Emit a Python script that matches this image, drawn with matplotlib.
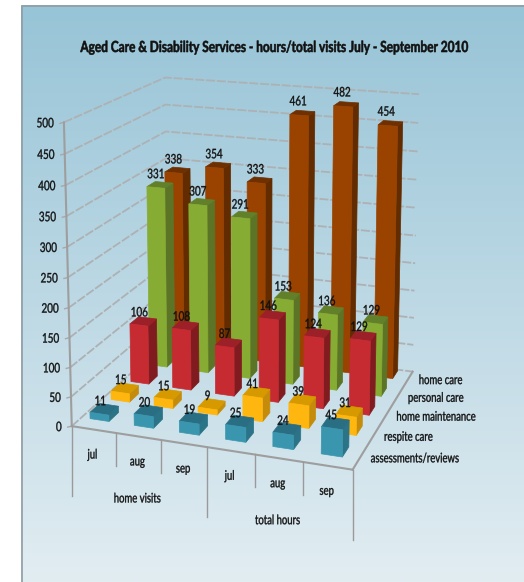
import numpy as np
import matplotlib
matplotlib.use("Agg")
import matplotlib.pyplot as plt
from matplotlib.patches import Polygon
from matplotlib.colors import LinearSegmentedColormap
from matplotlib.patheffects import AbstractPathEffect
from matplotlib.transforms import Affine2D

plt.rcParams['font.family'] = ['Lato', 'DejaVu Sans']

title = "Aged Care & Disability Services - hours/total visits July - September 2010"
months = ["jul", "aug", "sep", "jul", "aug", "sep"]
groups = ["home visits", "total hours"]
series_names = ["assessments/reviews", "respite care", "home maintenance", "personal care", "home care"]
z_ticks = [0, 50, 100, 150, 200, 250, 300, 350, 400, 450, 500]

assessments = [11, 20, 19, 25, 24, 45]
respite = [15, 15, 9, 41, 39, 31]
maintenance = [106, 108, 87, 146, 124, 129]
personal = [331, 307, 291, 153, 136, 129]
home_care = [338, 354, 333, 461, 482, 454]
series_values = [assessments, respite, maintenance, personal, home_care]

# front, side and top colour of each series
series_colors = [
    ("#3A96AE", "#2B7488", "#2A6E84"),
    ("#FFB60E", "#C48C0A", "#D69A00"),
    ("#C62B32", "#801C20", "#9C2028"),
    ("#87AC34", "#5C7426", "#62802A"),
    ("#9A4200", "#632C00", "#6E3000"),
]

# box corners (category, series, value) and where they sit on the canvas
box_pts = np.array([
    (0, 0, 0), (6, 0, 0), (6, 5, 0), (0, 5, 0),
    (0, 0, 500), (0, 5, 500), (6, 5, 500), (0, 0, 250),
], dtype=float)
canvas_pts = np.array([
    (71, 422.5), (353.7, 472.7), (412, 368.3), (168.5, 344),
    (63.3, 124), (165.7, 75.7), (418.7, 95), (68.3, 276.7),
], dtype=float)


class Squeeze(AbstractPathEffect):
    # narrows the glyphs around the text's anchor, Lato has no condensed cut
    def __init__(self, factor, anchor="center", stroke=0.25):
        super().__init__()
        self.factor = factor
        self.anchor = anchor
        self.stroke = stroke

    def draw_path(self, renderer, gc, tpath, affine, rgbFace=None):
        ext = tpath.get_extents()
        pivot = {"left": ext.x0, "center": (ext.x0 + ext.x1) / 2, "right": ext.x1}[self.anchor]
        squeeze = Affine2D().translate(-pivot, 0).scale(self.factor, 1).translate(pivot, 0)
        gc0 = renderer.new_gc()
        gc0.copy_properties(gc)
        gc0.set_linewidth(self.stroke)
        gc0.set_foreground(rgbFace)
        renderer.draw_path(gc0, tpath, squeeze + affine, rgbFace)
        gc0.restore()


def fit_camera(box, canvas):
    # direct linear transform, box scaled so the value axis is comparable
    rows, rhs = [], []
    for (x, y, z), (u, v) in zip(box, canvas):
        z = z / 100
        rows.append([x, y, z, 1, 0, 0, 0, 0, -u * x, -u * y, -u * z])
        rows.append([0, 0, 0, 0, x, y, z, 1, -v * x, -v * y, -v * z])
        rhs += [u, v]
    sol = np.linalg.lstsq(np.array(rows), np.array(rhs), rcond=None)[0]
    return np.append(sol, 1).reshape(3, 4)


camera = fit_camera(box_pts, canvas_pts)


def project(x, y, z):
    p = camera @ np.array([x, y, z / 100, 1.0])
    return p[0] / p[2], p[1] / p[2]


fig = plt.figure(figsize=(5.24, 5.82), dpi=100)
ax = fig.add_axes([0, 0, 1, 1])
ax.axis("off")


def label(u, v, text, ha="center", size=9.5, weight="normal", factor=0.72, stroke=0.25):
    ax.text(u, v, text, ha=ha, va="center", fontsize=size, fontweight=weight, color="#111111",
            zorder=5, path_effects=[Squeeze(factor, ha, stroke)])


# panel with vertical gradient
cmap = LinearSegmentedColormap.from_list("panel", ["#97C4D7", "#BCD8E4", "#E2EDF2"])
ax.imshow(np.linspace(0, 1, 256).reshape(-1, 1), extent=(21, 524, 582, 5), cmap=cmap,
          aspect="auto", zorder=0)
ax.plot([21.5, 21.5, 524], [582, 5.5, 5.5], color="#8F9CA3", lw=1.2, zorder=1)
ax.set_xlim(0, 524)
ax.set_ylim(582, 0)

grid_style = dict(color="#ADB1B3", lw=1.3, ls=(0, (5, 1.0)), zorder=2)
for z in z_ticks:
    pts = [project(0, 0, z), project(0, 5, z), project(6, 5, z)]
    ax.plot(*zip(*pts), **grid_style)
    # tick mark and value label on the left axis
    u, v = project(0, 0, z)
    ax.plot([u - 4, u], [v + 1, v], color="#A8A8A8", lw=1, zorder=2)
    label(u - 10, v + 1, str(z), ha="right", factor=0.75)

# axis frame
frame_style = dict(color="#9E9E9E", lw=1.5, zorder=2)
ax.plot(*zip(project(0, 0, 0), project(0, 0, 500)), **frame_style)
ax.plot(*zip(project(0, 0, 0), project(6, 0, 0)), **frame_style)
ax.plot(*zip(project(6, 0, 0), project(6, 5, 0)), **frame_style)

# category dividers below the front edge
for i in range(7):
    u, v = project(i, 0, 0)
    drop = 70 if i % 3 == 0 else 33
    ax.plot([u, u], [v, v + drop], color="#9A9A9A", lw=1, zorder=2)

bar_w = 0.43
bar_d = 0.46
floor_z = 7  # bars stand on a floor slab slightly above the frame


def bar_z(val):
    return floor_z + val * (1 - floor_z / 500)


for j in range(4, -1, -1):
    front, side, top = series_colors[j]
    for i, val in enumerate(series_values[j]):
        x0, x1 = i + 0.5 - bar_w / 2, i + 0.5 + bar_w / 2
        y0, y1 = j + 0.5 - bar_d / 2, j + 0.5 + bar_d / 2
        z0, z1 = bar_z(0), bar_z(val)
        faces = [
            ([(x1, y0, z0), (x1, y1, z0), (x1, y1, z1), (x1, y0, z1)], side),
            ([(x0, y0, z1), (x1, y0, z1), (x1, y1, z1), (x0, y1, z1)], top),
            ([(x0, y0, z0), (x1, y0, z0), (x1, y0, z1), (x0, y0, z1)], front),
        ]
        for corners, col in faces:
            ax.add_patch(Polygon([project(*c) for c in corners], closed=True, fc=col,
                                 ec=col, lw=0.5, zorder=3))
for j in range(5):
    for i, val in enumerate(series_values[j]):
        u, v = project(i + 0.5, j + 0.5, val)
        label(u - 4, v - 12, str(val), factor=0.75)

for i, name in enumerate(months):
    u, v = project(i + 0.5, 0, 0)
    label(u - 1, v + 25, name)
for i, name in enumerate(groups):
    u, v = project(3 * i + 1.5, 0, 0)
    label(u - 1, v + 62, name)
for j, name in enumerate(series_names):
    u, v = project(6, j + 0.5, 0)
    label(u + 11, v, name, ha="left")

label(274, 48, title, size=11, weight="bold", factor=0.776, stroke=0.4)

fig.savefig("out.png", dpi=100)
